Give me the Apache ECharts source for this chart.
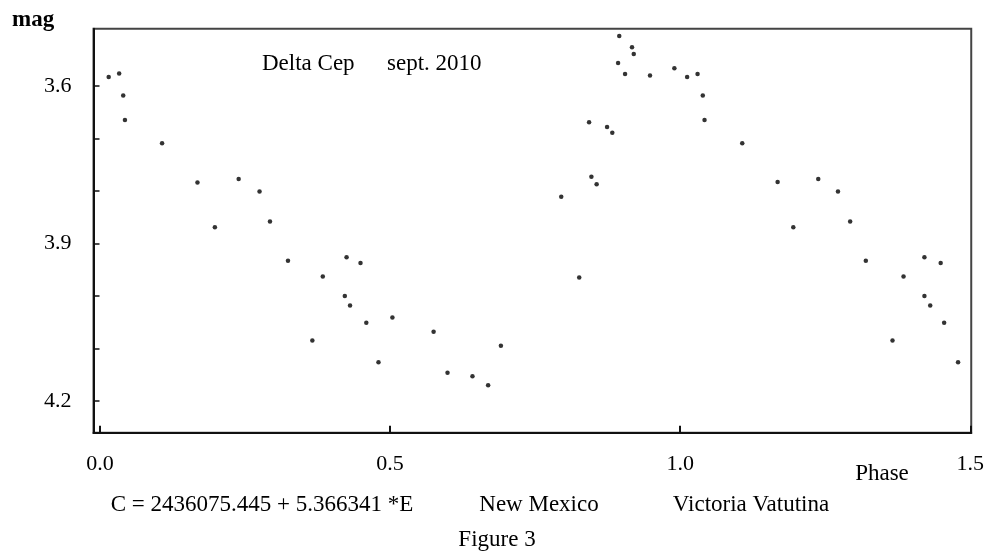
<!DOCTYPE html>
<html>
<head>
<meta charset="utf-8">
<script src="https://cdn.jsdelivr.net/npm/echarts@6/dist/echarts.min.js"></script>
<style>
  html, body { margin: 0; padding: 0; background: #fff; }
  #chart { width: 987px; height: 554px; }
</style>
</head>
<body>
<div id="chart"></div>
<script>
// phase-folded light curve
const phase = [
  0.015, 0.033, 0.040, 0.043, 0.107, 0.168, 0.198, 0.239, 0.275, 0.293,
  0.324, 0.366, 0.384, 0.422, 0.425, 0.431, 0.449, 0.459, 0.480, 0.504,
  0.575, 0.599, 0.642, 0.669, 0.691, 0.795, 0.826, 0.843, 0.847, 0.856,
  0.874, 0.883, 0.893, 0.895, 0.905, 0.917, 0.920, 0.948, 0.990, 1.012,
  1.030, 1.039, 1.042, 1.107, 1.168, 1.195, 1.238, 1.272, 1.293, 1.320,
  1.366, 1.385, 1.421, 1.421, 1.431, 1.449, 1.455, 1.479
];
const mag = [
  3.583, 3.576, 3.618, 3.665, 3.709, 3.784, 3.869, 3.777, 3.801, 3.858,
  3.933, 4.085, 3.963, 4.000, 3.926, 4.018, 3.937, 4.051, 4.126, 4.041,
  4.068, 4.146, 4.153, 4.170, 4.095, 3.811, 3.965, 3.669, 3.773, 3.787,
  3.678, 3.689, 3.556, 3.505, 3.577, 3.526, 3.539, 3.580, 3.566, 3.583,
  3.577, 3.618, 3.665, 3.709, 3.783, 3.869, 3.777, 3.801, 3.858, 3.933,
  4.085, 3.963, 3.926, 4.000, 4.018, 3.937, 4.051, 4.126
];
const phaseTicks = [0, 0.5, 1.0, 1.5];
const magTicks = [3.6, 3.7, 3.8, 3.9, 4.0, 4.1, 4.2];
const magLabels = [3.6, 3.9, 4.2];

const font = 'Liberation Serif';
const textFont = '23px "Liberation Serif"';
const chart = echarts.init(document.getElementById('chart'));

const points = phase.map((p, i) => [p, mag[i]]);

const centered = (text, x, y) => ({
  type: 'text', x: x, y: y,
  style: { text: text, font: textFont, fill: '#000', textAlign: 'center', textVerticalAlign: 'middle' }
});

const option = {
  animation: false,
  backgroundColor: '#fff',
  grid: {
    left: 93.5,
    right: 14.3,
    top: 28.7,
    bottom: 121.3,
    show: true,
    borderColor: '#444',
    borderWidth: 2
  },
  xAxis: {
    type: 'value',
    min: -0.0112,
    max: 1.5017,
    splitLine: { show: false },
    axisLine: { show: true, onZero: false, lineStyle: { color: '#111', width: 2 } },
    axisTick: {
      show: true,
      inside: true,
      length: 7,
      customValues: phaseTicks,
      lineStyle: { color: '#111', width: 2 }
    },
    axisLabel: {
      customValues: phaseTicks,
      margin: 21,
      color: '#000',
      fontFamily: font,
      fontSize: 22,
      formatter: v => v.toFixed(1)
    }
  },
  yAxis: {
    type: 'value',
    inverse: true,
    min: 3.4909,
    max: 4.2604,
    splitLine: { show: false },
    axisLine: { show: true, onZero: false, lineStyle: { color: '#111', width: 2 } },
    axisTick: {
      show: true,
      inside: true,
      length: 6,
      customValues: magTicks,
      lineStyle: { color: '#111', width: 1.5 }
    },
    axisLabel: {
      customValues: magLabels,
      margin: 22,
      color: '#000',
      fontFamily: font,
      fontSize: 22,
      formatter: v => v.toFixed(1)
    }
  },
  series: [{
    type: 'scatter',
    data: points,
    symbol: 'circle',
    symbolSize: 4.5,
    itemStyle: { color: '#000' }
  }],
  graphic: [
    { type: 'text', left: 12, top: 9,
      style: { text: 'mag', font: 'bold 23px "Liberation Serif"', fill: '#000' } },
    { type: 'text', left: 262, top: 52,
      style: { text: 'Delta Cep', font: textFont, fill: '#000' } },
    { type: 'text', left: 387, top: 52,
      style: { text: 'sept. 2010', font: textFont, fill: '#000' } },
    centered('Phase', 882, 474),
    centered('C = 2436075.445 + 5.366341 *E', 262, 505),
    centered('New Mexico', 539, 505),
    centered('Victoria Vatutina', 751, 505),
    centered('Figure 3', 497, 540)
  ]
};

chart.setOption(option);
</script>
</body>
</html>
